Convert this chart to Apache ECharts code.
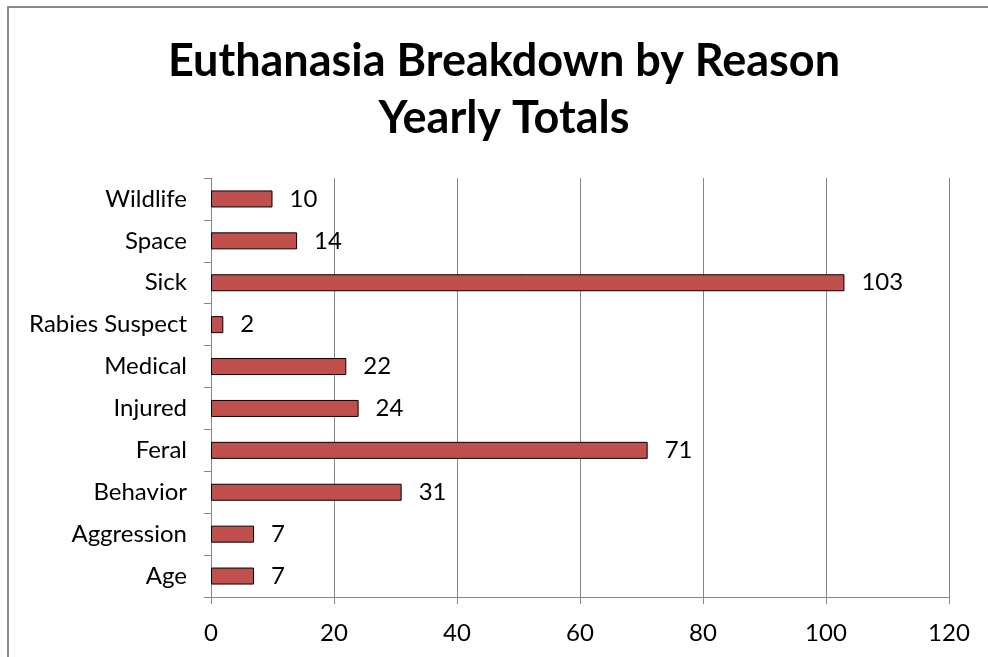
<!DOCTYPE html>
<html><head><meta charset="utf-8">
<script src="https://cdn.jsdelivr.net/npm/echarts@6/dist/echarts.min.js"></script>
<style>
html,body{margin:0;padding:0;background:#fff;overflow:hidden;width:988px;height:657px;}
#lineTop{position:absolute;left:7px;top:6px;width:981px;height:2px;background:#8c8c8c;}
#lineLeft{position:absolute;left:7px;top:6px;width:2px;height:651px;background:#8c8c8c;}
#chart{position:absolute;left:0;top:0;width:988px;height:657px;}
</style></head>
<body>
<div id="lineTop"></div>
<div id="lineLeft"></div>
<div id="chart"></div>
<script>
const categories = ["Age","Aggression","Behavior","Feral","Injured","Medical","Rabies Suspect","Sick","Space","Wildlife"];
const values = [7,7,31,71,24,22,2,103,14,10];
const titleLines = ["Euthanasia Breakdown by Reason","Yearly Totals"];
const FONT = "Lato, 'Open Sans', sans-serif";
const chart = echarts.init(document.getElementById('chart'));
chart.setOption({
  animation:false,
  title:{
    text:titleLines.join('\n'),
    left:499, top:28, textAlign:'center',
    textStyle:{fontFamily:FONT,fontWeight:'bold',fontSize:45,lineHeight:57,color:'#000'}
  },
  grid:{left:211,top:178,width:738,height:419,containLabel:false},
  xAxis:{
    type:'value',min:0,max:120,interval:20,
    axisLine:{show:true,lineStyle:{color:'#868686',width:1}},
    axisTick:{show:true,length:7,lineStyle:{color:'#868686'}},
    splitLine:{show:true,lineStyle:{color:'#868686',width:1}},
    axisLabel:{fontFamily:FONT,fontSize:24,color:'#000',margin:24}
  },
  yAxis:{
    type:'category',data:categories,
    axisLine:{show:true,lineStyle:{color:'#868686',width:1}},
    axisTick:{show:true,length:7,lineStyle:{color:'#868686'}},
    axisLabel:{fontFamily:FONT,fontSize:24,color:'#000',margin:24}
  },
  series:[{
    type:'bar',data:values,barWidth:17,
    itemStyle:{color:'#C0504D',borderColor:'#000',borderWidth:1},
    label:{show:true,position:'right',distance:17,fontFamily:FONT,fontSize:24,color:'#000'}
  }]
});
</script>
</body></html>
